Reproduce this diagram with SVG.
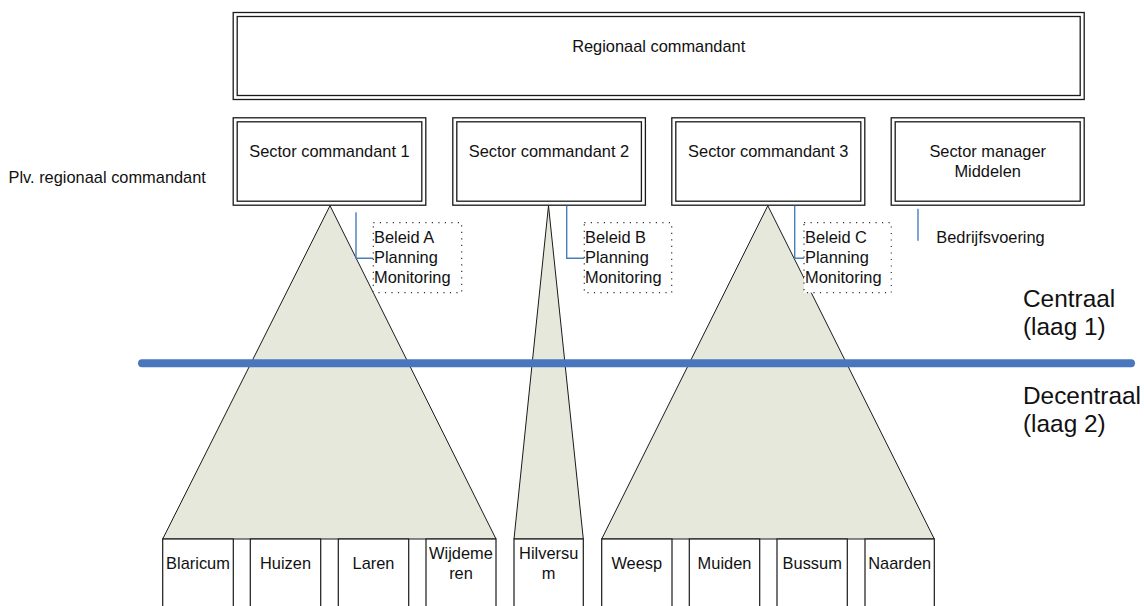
<svg xmlns="http://www.w3.org/2000/svg" width="1144" height="606" viewBox="0 0 1144 606">
  <style>
    .t { font-family: "Liberation Sans", Arial, sans-serif; font-size: 16.4px; fill: #111; }
    .c { text-anchor: middle; }
    .big { font-size: 24.4px; }
    .dbl { fill: none; stroke: #1a1a1a; stroke-width: 1.3; }
    .bg { fill: #ffffff; }
    .tri { fill: #e7e8dc; stroke: #1a1a1a; stroke-width: 1; stroke-linejoin: miter; }
    .muni { fill: #ffffff; stroke: #1a1a1a; stroke-width: 1.2; }
    .task { fill: #ffffff; stroke: #333; stroke-width: 1.2; stroke-dasharray: 1.2 5.3; }
    .link { fill: none; stroke: #4a7ebb; stroke-width: 1.4; }
    .divider { stroke: #4877be; stroke-width: 8; stroke-linecap: round; }
  </style>

  <!-- region commander -->
  <g id="regionaal-commandant">
    <rect class="bg" x="233.2" y="12.5" width="851" height="87"/>
    <rect class="dbl" x="233.2" y="12.5" width="851" height="87"/>
    <rect class="dbl" x="237.2" y="16.5" width="843" height="79"/>
    <text class="t c" x="658.7" y="52">Regionaal commandant</text>
  </g>

  <text id="plv-label" class="t" x="8.5" y="183.3">Plv. regionaal commandant</text>

  <!-- sector level -->
  <g id="sector-1">
    <rect class="dbl" x="233.2" y="117.8" width="192.6" height="87.4"/>
    <rect class="dbl" x="237.2" y="121.8" width="184.6" height="79.4"/>
    <text class="t c" x="329.5" y="157">Sector commandant 1</text>
  </g>
  <g id="sector-2">
    <rect class="dbl" x="452.8" y="117.8" width="192.6" height="87.4"/>
    <rect class="dbl" x="456.8" y="121.8" width="184.6" height="79.4"/>
    <text class="t c" x="549" y="157">Sector commandant 2</text>
  </g>
  <g id="sector-3">
    <rect class="dbl" x="671.8" y="117.8" width="193" height="87.4"/>
    <rect class="dbl" x="675.8" y="121.8" width="185" height="79.4"/>
    <text class="t c" x="768.3" y="157">Sector commandant 3</text>
  </g>
  <g id="sector-middelen">
    <rect class="dbl" x="891.2" y="117.8" width="193" height="87.4"/>
    <rect class="dbl" x="895.2" y="121.8" width="185" height="79.4"/>
    <text class="t c" x="987.7" y="157">Sector manager</text>
    <text class="t c" x="987.7" y="177">Middelen</text>
  </g>

  <!-- spans of control -->
  <g id="span-sector-1">
    <polygon class="tri" points="330,205.7 496,539 162.7,539"/>
  </g>
  <g id="span-sector-2">
    <polygon class="tri" points="548.5,205.7 583.3,539 514,539"/>
  </g>
  <g id="span-sector-3">
    <polygon class="tri" points="767.8,205.7 934.3,539 601.7,539"/>
  </g>

  <!-- staff tasks per sector -->
  <g id="taken-a">
    <rect class="task" x="373.3" y="222.7" width="88.4" height="70"/>
    <text class="t" x="374" y="242.7">Beleid A</text>
    <text class="t" x="374" y="263">Planning</text>
    <text class="t" x="374" y="283.3">Monitoring</text>
  </g>
  <g id="taken-b">
    <rect class="task" x="584.3" y="222.7" width="87.4" height="70"/>
    <text class="t" x="585" y="242.7">Beleid B</text>
    <text class="t" x="585" y="263">Planning</text>
    <text class="t" x="585" y="283.3">Monitoring</text>
  </g>
  <g id="taken-c">
    <rect class="task" x="804" y="222.7" width="87.3" height="70"/>
    <text class="t" x="805" y="242.7">Beleid C</text>
    <text class="t" x="805" y="263">Planning</text>
    <text class="t" x="805" y="283.3">Monitoring</text>
  </g>
  <g id="taken-middelen">
    <text class="t" x="936.3" y="243.3">Bedrijfsvoering</text>
  </g>

  <g id="connectors">
    <polyline class="link" points="356,212.3 356,258.3 373.3,258.3"/>
    <polyline class="link" points="566.7,205.7 566.7,258.3 584.3,258.3"/>
    <polyline class="link" points="794.7,205.7 794.7,258.3 804,258.3"/>
    <line class="link" x1="918" y1="208.7" x2="918" y2="240.7"/>
  </g>

  <!-- layer boundary -->
  <g id="laaggrens">
    <line class="divider" x1="142" y1="363.3" x2="1131" y2="363.3"/>
  </g>
  <g id="laag-labels">
    <text class="t big" x="1023" y="306.7">Centraal</text>
    <text class="t big" x="1023" y="335">(laag 1)</text>
    <text class="t big" x="1023" y="404">Decentraal</text>
    <text class="t big" x="1023" y="432">(laag 2)</text>
  </g>

  <!-- municipalities -->
  <g id="blaricum">
    <rect class="muni" x="162.7" y="539" width="70.6" height="80"/>
    <text class="t c" x="198" y="569">Blaricum</text>
  </g>
  <g id="huizen">
    <rect class="muni" x="250.3" y="539" width="70.4" height="80"/>
    <text class="t c" x="285.5" y="569">Huizen</text>
  </g>
  <g id="laren">
    <rect class="muni" x="338.3" y="539" width="70.4" height="80"/>
    <text class="t c" x="373.5" y="569">Laren</text>
  </g>
  <g id="wijdemeren">
    <rect class="muni" x="426" y="539" width="70" height="80"/>
    <text class="t c" x="461" y="559">Wijdeme</text>
    <text class="t c" x="461" y="579">ren</text>
  </g>
  <g id="hilversum">
    <rect class="muni" x="514" y="539" width="69.3" height="80"/>
    <text class="t c" x="548.7" y="559">Hilversu</text>
    <text class="t c" x="548.7" y="579">m</text>
  </g>
  <g id="weesp">
    <rect class="muni" x="601.7" y="539" width="70.3" height="80"/>
    <text class="t c" x="636.8" y="569">Weesp</text>
  </g>
  <g id="muiden">
    <rect class="muni" x="689.3" y="539" width="70.4" height="80"/>
    <text class="t c" x="724.5" y="569">Muiden</text>
  </g>
  <g id="bussum">
    <rect class="muni" x="777" y="539" width="70.3" height="80"/>
    <text class="t c" x="812.2" y="569">Bussum</text>
  </g>
  <g id="naarden">
    <rect class="muni" x="865" y="539" width="69.3" height="80"/>
    <text class="t c" x="899.7" y="569">Naarden</text>
  </g>
</svg>
